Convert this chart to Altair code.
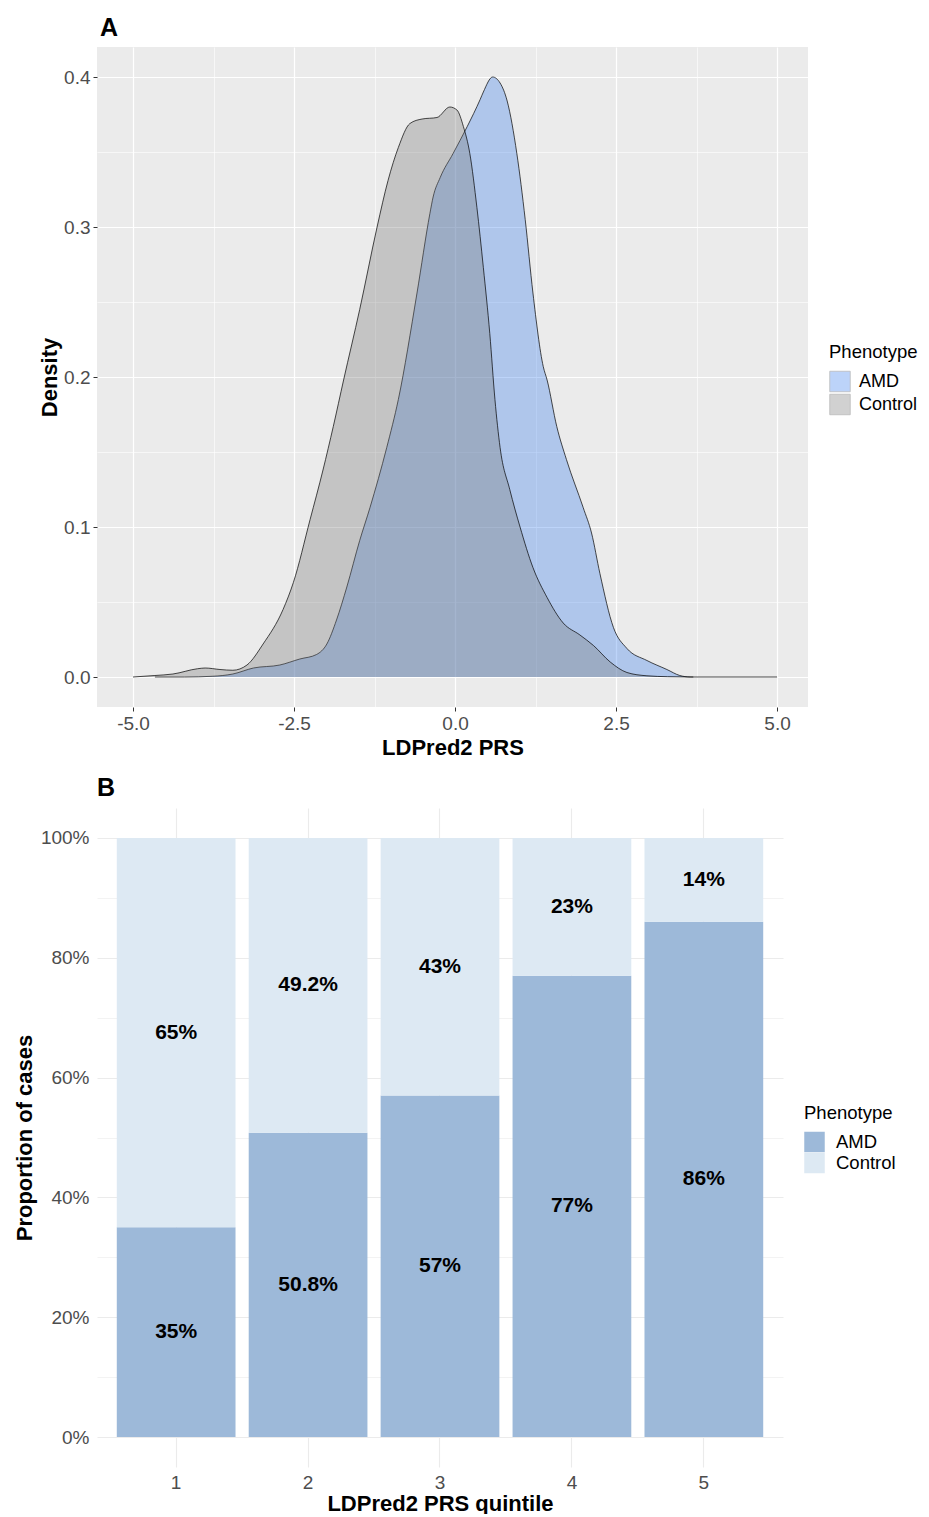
import altair as alt
import pandas as pd

FONT = "Liberation Sans"

# ---------------- Panel A: density curves ----------------
amd_x = [-4.66, -4.2, -3.76, -3.45, -3.13, -2.72, -2.41, -2.15, -1.99, -1.84, -1.68,
         -1.48, -1.32, -1.06, -0.88, -0.59, -0.39, -0.34, -0.23, -0.03, 0.19, 0.39,
         0.44, 0.585, 0.70, 0.81, 0.96, 1.09, 1.21, 1.37, 1.43, 1.58, 1.73, 1.99,
         2.12, 2.25, 2.46, 2.67, 2.98, 3.29, 3.49, 3.65, 5.0]
amd_y = [0.0, 0.0, 0.0005, 0.002, 0.006, 0.008, 0.012, 0.015, 0.022, 0.038, 0.060,
         0.091, 0.113, 0.153, 0.185, 0.256, 0.309, 0.320, 0.333, 0.349, 0.367, 0.385,
         0.390, 0.400, 0.396, 0.384, 0.349, 0.305, 0.256, 0.207, 0.198, 0.167, 0.145,
         0.113, 0.096, 0.069, 0.033, 0.019, 0.011, 0.005, 0.001, 0.0, 0.0]

ctrl_x = [-5.0, -4.66, -4.38, -4.0, -3.88, -3.65, -3.45, -3.23, -2.98, -2.67, -2.51,
          -2.25, -2.05, -1.89, -1.73, -1.48, -1.21, -1.04, -0.88, -0.70, -0.51, -0.28,
          -0.08, 0.03, 0.13, 0.23, 0.34, 0.44, 0.54, 0.62, 0.70, 0.85, 1.01, 1.21,
          1.43, 1.68, 1.94, 2.15, 2.41, 2.67, 2.98, 3.3, 3.7]
ctrl_y = [0.0, 0.001, 0.002, 0.0055, 0.006, 0.005, 0.0045, 0.008, 0.022, 0.045, 0.063,
          0.105, 0.138, 0.167, 0.198, 0.245, 0.300, 0.331, 0.353, 0.369, 0.372, 0.373,
          0.380, 0.378, 0.367, 0.349, 0.313, 0.273, 0.229, 0.185, 0.153, 0.125, 0.100,
          0.073, 0.053, 0.036, 0.028, 0.021, 0.010, 0.003, 0.0008, 0.0002, 0.0]

x_major = [-5.0, -2.5, 0.0, 2.5, 5.0]
x_minor = [-3.75, -1.25, 1.25, 3.75]
y_major = [0.0, 0.1, 0.2, 0.3, 0.4]
y_minor = [0.05, 0.15, 0.25, 0.35]

# ---------------- Panel B: stacked proportions ----------------
quintiles = ["1", "2", "3", "4", "5"]
amd_pct = [35, 50.8, 57, 77, 86]
ctrl_pct = [65, 49.2, 43, 23, 14]
pct_major = [0, 20, 40, 60, 80, 100]
pct_minor = [10, 30, 50, 70, 90]

dens = pd.concat([
    pd.DataFrame({"x": amd_x, "d": amd_y, "Phenotype": "AMD"}),
    pd.DataFrame({"x": ctrl_x, "d": ctrl_y, "Phenotype": "Control"}),
], ignore_index=True)

bdf = pd.concat([
    pd.DataFrame({"quintile": quintiles, "pct": amd_pct, "Phenotype": "AMD", "ord": 0}),
    pd.DataFrame({"quintile": quintiles, "pct": ctrl_pct, "Phenotype": "Control", "ord": 1}),
], ignore_index=True)

# ---------- Panel A ----------
xs = alt.Scale(domain=[-5.559, 5.481], nice=False, zero=False)
ys = alt.Scale(domain=[-0.02, 0.42], nice=False, zero=False)

axis_lbl = dict(labelFont=FONT, labelFontSize=19, labelColor="#4D4D4D",
                titleFont=FONT, titleFontSize=22, titleFontWeight="bold", titleColor="black")
hyph = "replace(format(datum.value, '.1f'), '\u2212', '-')"

minorA = alt.Chart(dens).mark_point(opacity=0).encode(
    x=alt.X("x:Q", scale=xs, axis=alt.Axis(orient="top", values=x_minor, grid=True,
            gridColor="white", gridWidth=0.6, labels=False, ticks=False, domain=False, title=None)),
    y=alt.Y("d:Q", scale=ys, axis=alt.Axis(orient="right", values=y_minor, grid=True,
            gridColor="white", gridWidth=0.6, labels=False, ticks=False, domain=False, title=None)),
)

colA = alt.Color("Phenotype:N",
                 scale=alt.Scale(domain=["AMD", "Control"], range=["#387BEE", "#757575"]),
                 legend=alt.Legend(title="Phenotype", orient="none", legendX=732, legendY=296,
                                   titleFont=FONT, titleFontSize=18.5, titleFontWeight="normal",
                                   titleColor="black", labelFont=FONT, labelFontSize=18,
                                   labelColor="black", symbolType="square", symbolSize=420,
                                   symbolStrokeColor="#333333", symbolStrokeWidth=0.8,
                                   symbolOpacity=0.33, rowPadding=-3, titlePadding=9,
                                   labelOffset=8, padding=0))

areaAMD = alt.Chart(dens).transform_filter("datum.Phenotype == 'AMD'").mark_area(
    opacity=0.33, interpolate="monotone").encode(
    x=alt.X("x:Q", scale=xs, axis=alt.Axis(values=x_major, labelExpr=hyph, grid=True,
            gridColor="white", gridWidth=1.2, tickColor="#333333", tickSize=4, domain=False,
            labelPadding=3, titlePadding=4, title="LDPred2 PRS", **axis_lbl)),
    y=alt.Y("d:Q", scale=ys, stack=None, axis=alt.Axis(values=y_major, labelExpr=hyph, grid=True,
            gridColor="white", gridWidth=1.2, tickColor="#333333", tickSize=4, domain=False,
            labelPadding=3, titlePadding=2, title="Density", **axis_lbl)),
    color=colA,
)
lineAMD = alt.Chart(dens).transform_filter("datum.Phenotype == 'AMD'").mark_line(
    color="black", strokeWidth=0.7, interpolate="monotone").encode(
    x=alt.X("x:Q", scale=xs, axis=None), y=alt.Y("d:Q", scale=ys, axis=None))
areaCtrl = alt.Chart(dens).transform_filter("datum.Phenotype == 'Control'").mark_area(
    opacity=0.33, interpolate="monotone").encode(
    x=alt.X("x:Q", scale=xs, axis=None), y=alt.Y("d:Q", scale=ys, stack=None, axis=None),
    color=colA)
lineCtrl = alt.Chart(dens).transform_filter("datum.Phenotype == 'Control'").mark_line(
    color="black", strokeWidth=0.7, interpolate="monotone").encode(
    x=alt.X("x:Q", scale=xs, axis=None), y=alt.Y("d:Q", scale=ys, axis=None))

panelA = alt.layer(minorA, areaAMD, lineAMD, areaCtrl, lineCtrl).resolve_axis(
    x="independent", y="independent").properties(
    width=711, height=660,
    title=alt.TitleParams("A", anchor="start", frame="group", font=FONT, fontSize=25,
                          fontWeight="bold", color="black", baseline="alphabetic", offset=-14,
                          dx=3),
    view=alt.ViewBackground(fill="#EBEBEB", strokeWidth=0))

# ---------- Panel B ----------
xb = alt.Scale(domain=quintiles, paddingInner=0.1, paddingOuter=0.15)
yb = alt.Scale(domain=[-5, 105], nice=False, zero=False)

minorB = alt.Chart(bdf).mark_point(opacity=0).encode(
    x=alt.X("quintile:O", scale=xb, axis=None),
    y=alt.Y("pct:Q", scale=yb, axis=alt.Axis(orient="right", values=pct_minor, grid=True,
            gridColor="#EBEBEB", gridWidth=0.6, labels=False, ticks=False, domain=False, title=None)),
)

bars = alt.Chart(bdf).mark_bar().encode(
    x=alt.X("quintile:O", scale=xb, axis=alt.Axis(title="LDPred2 PRS quintile", labelAngle=0,
            bandPosition=0.5, grid=True, gridColor="#EBEBEB", gridWidth=1.1, ticks=False,
            domain=False, labelPadding=6, titlePadding=1, **axis_lbl)),
    y=alt.Y("pct:Q", stack="zero", scale=yb, axis=alt.Axis(values=pct_major,
            labelExpr="datum.value + '%'", grid=True, gridColor="#EBEBEB", gridWidth=1.1,
            ticks=False, domain=False, labelPadding=8, titlePadding=4,
            title="Proportion of cases", **axis_lbl)),
    color=alt.Color("Phenotype:N",
                    scale=alt.Scale(domain=["AMD", "Control"], range=["#9DB9D9", "#DDE9F3"]),
                    legend=alt.Legend(title="Phenotype", orient="none", legendX=707, legendY=296,
                                      titleFont=FONT, titleFontSize=18.5, titleFontWeight="normal",
                                      titleColor="black", labelFont=FONT, labelFontSize=18.5,
                                      labelColor="black", symbolType="square", symbolSize=420,
                                      symbolStrokeWidth=0, rowPadding=-3, titlePadding=9,
                                      labelOffset=11, padding=0)),
    order=alt.Order("ord:Q", sort="ascending"),
)

labels = alt.Chart(bdf).transform_stack(
    stack="pct", groupby=["quintile"], sort=[alt.SortField("ord", order="ascending")],
    as_=["y0", "y1"]).transform_calculate(
    mid="(datum.y0 + datum.y1) / 2", label="datum.pct + '%'").mark_text(
    font=FONT, fontSize=21, fontWeight="bold", color="black", baseline="middle").encode(
    x=alt.X("quintile:O", scale=xb, axis=None),
    y=alt.Y("mid:Q", scale=yb, axis=None),
    text="label:N")

panelB = alt.layer(minorB, bars, labels).resolve_axis(
    x="independent", y="independent").properties(
    width=686, height=659,
    title=alt.TitleParams("B", anchor="start", frame="group", font=FONT, fontSize=25,
                          fontWeight="bold", color="black", baseline="alphabetic", offset=-13),
    view=alt.ViewBackground(fill="white", strokeWidth=0))

chart = alt.vconcat(panelA, panelB, spacing=18).resolve_scale(color="independent").properties(
    padding={"left": 5, "top": 8, "right": 0, "bottom": 0}, background="white"
).configure_view(strokeWidth=0)

chart.save("out.html", embed_options={"renderer": "svg", "actions": False})
